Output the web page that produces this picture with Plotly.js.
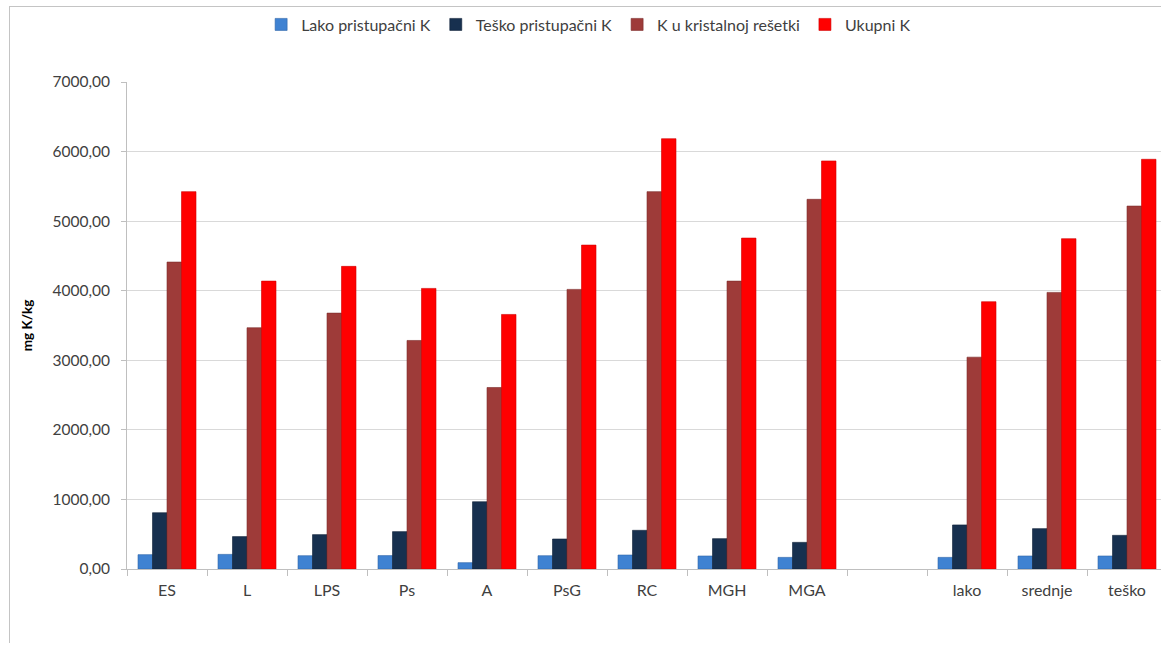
<!DOCTYPE html>
<html>
<head>
<meta charset="utf-8">
<script src="https://cdn.plot.ly/plotly-3.0.1.min.js"></script>
<style>
html, body { margin: 0; padding: 0; background: #ffffff; }
#frame { position: absolute; left: 9px; top: 6px; width: 1200px; height: 637px; border-left: 1px solid #c4c4c4; border-top: 1px solid #c4c4c4; box-sizing: border-box; pointer-events: none; z-index: 5; }
#chart { width: 1161px; height: 645px; }
</style>
</head>
<body>
<div id="frame"></div>
<div id="chart"></div>
<script>
var categories = ['ES', 'L', 'LPS', 'Ps', 'A', 'PsG', 'RC', 'MGH', 'MGA', ' ', 'lako', 'srednje', 'teško'];
var seriesNames = ['Lako pristupačni K', 'Teško pristupačni K', 'K u kristalnoj rešetki', 'Ukupni K'];
var lakoPristupacni = [206, 210, 191, 193, 91, 191, 201, 187, 167, null, 167, 187, 187];
var teskoPristupacni = [809, 466, 494, 537, 967, 431, 556, 436, 383, null, 633, 580, 484];
var kristalnaResetka = [4412, 3468, 3678, 3285, 2609, 4019, 5424, 4138, 5314, null, 3045, 3976, 5217];
var ukupni = [5424, 4138, 4350, 4033, 3659, 4656, 6185, 4757, 5865, null, 3842, 4748, 5889];
var yTicks = [0, 1000, 2000, 3000, 4000, 5000, 6000, 7000];

var colors = ['#3f82d2', '#17304f', '#9e3b39', '#ff0000'];
var lineColors = ['#2f65a8', '#0f2038', '#7c2c2a', '#d00000'];
var values = [lakoPristupacni, teskoPristupacni, kristalnaResetka, ukupni];

var traces = values.map(function (v, i) {
  return {
    type: 'bar',
    name: seriesNames[i],
    x: categories,
    y: v,
    marker: { color: colors[i], line: { color: lineColors[i], width: 0.6 } },
    hoverinfo: 'x+y+name'
  };
});

var font = 'Lato, "Open Sans", "DejaVu Sans", sans-serif';

var layout = {
  width: 1161,
  height: 645,
  margin: { l: 127, r: 0, t: 82, b: 76, pad: 0 },
  paper_bgcolor: 'rgba(0,0,0,0)',
  plot_bgcolor: '#ffffff',
  barmode: 'group',
  bargap: 0.275,
  bargroupgap: 0,
  separators: ',.',
  font: { family: font, size: 15, color: '#404040' },
  showlegend: true,
  legend: {
    orientation: 'h',
    xref: 'container', yref: 'container',
    x: 0.507, xanchor: 'center',
    y: 0.962, yanchor: 'middle',
    font: { family: font, size: 16, color: '#404040' },
    itemwidth: 30,
    tracegroupgap: 0,
    bgcolor: 'rgba(0,0,0,0)'
  },
  xaxis: {
    type: 'category',
    categoryorder: 'array',
    categoryarray: categories,
    range: [-0.5, 12.425],
    tickson: 'boundaries',
    ticks: 'outside',
    ticklen: 6,
    tickcolor: '#bfbfbf',
    showline: true,
    linecolor: '#bfbfbf',
    linewidth: 1,
    showgrid: false,
    zeroline: false,
    tickfont: { family: font, size: 16, color: '#404040' },
    ticklabelstandoff: 7,
    fixedrange: true
  },
  yaxis: {
    range: [0, 7000],
    tickvals: yTicks,
    tickformat: '.2f',
    ticks: 'outside',
    ticklen: 5,
    tickcolor: '#bfbfbf',
    showline: true,
    linecolor: '#bfbfbf',
    linewidth: 1,
    showgrid: true,
    gridcolor: '#d9d9d9',
    gridwidth: 1,
    zeroline: false,
    tickfont: { family: font, size: 15.5, color: '#404040' },
    ticklabelstandoff: 8,
    title: { text: 'mg K/kg', font: { family: font, size: 13.5, color: '#000000', weight: 'bold' }, standoff: 16 },
    fixedrange: true
  }
};

Plotly.newPlot('chart', traces, layout, { displayModeBar: false, staticPlot: true });
</script>
</body>
</html>
